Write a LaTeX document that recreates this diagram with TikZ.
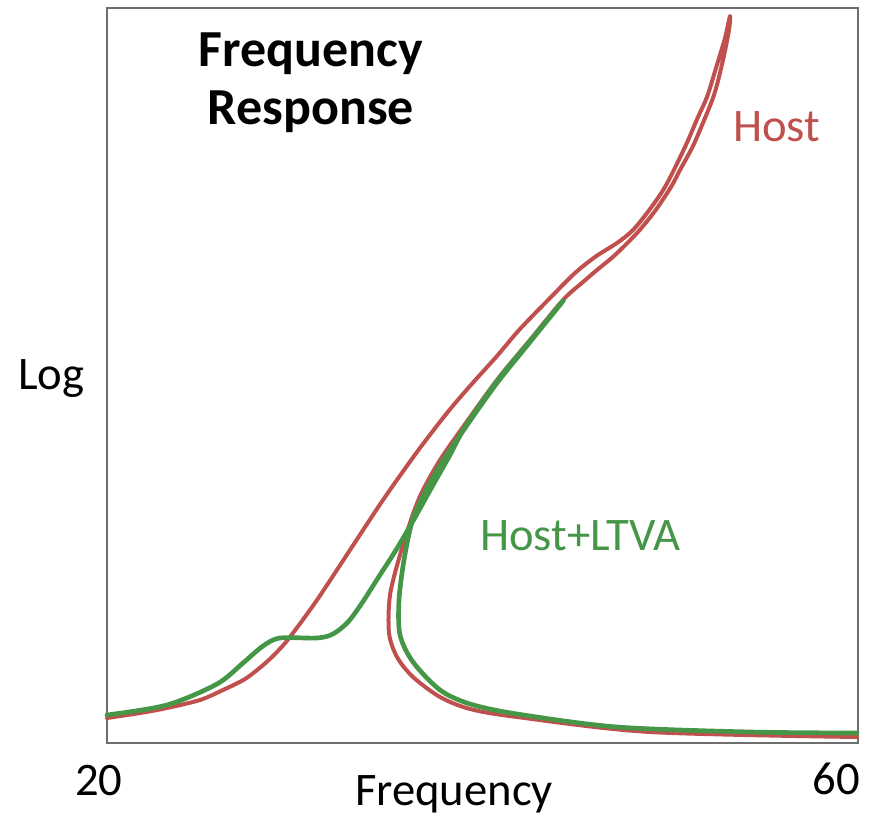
\documentclass[tikz,border=0pt]{standalone}
\usepackage{fontspec}
\setmainfont{Carlito}
\definecolor{hostred}{RGB}{192,80,77}
\definecolor{ltvagreen}{RGB}{70,150,72}
\definecolor{framegray}{RGB}{110,110,110}

\begin{document}
\begin{tikzpicture}[
		x=0.75pt, y=-0.75pt,
		every node/.style={inner sep=0pt, font=\fontsize{35}{40}\selectfont},
		title/.style={font=\fontsize{39}{44}\selectfont\bfseries, anchor=base},
		curve/.style={line width=3pt, line cap=round, line join=round}
	]
  \useasboundingbox (0,0) rectangle (875,816);
  \draw [framegray, line width=1.5pt] (107,8) rectangle (858,743);
  \node (title_1) [title] at (311,67) {Frequency};
  \node (title_2) [title] at (311,125) {Response};
  \node (log) [anchor=base west] at (18,390) {Log};
  \node (f_min) [anchor=base west] at (75,795) {20};
  \node (f_max) [anchor=base east] at (860,794) {60};
  \node (freq) [anchor=base] at (454,805) {Frequency};
  \node (host) [anchor=base west, text=hostred] at (733,142) {Host};
  \node (host_ltva) [anchor=base west, text=ltvagreen] at (480,550) {Host+LTVA};
  % host: rising branch, top, back down and round the fold
  \draw [curve, hostred] plot[smooth] coordinates {
    (107,718) (140,713) (167,708) (200,700) (223,690) (245,679) (262,666)
    (276,653) (290,637) (317,600) (350,550) (383,500) (417,452) (447,413)
    (470,386) (497,356) (520,329) (553,295) (575,273) (595,257) (617,243)
    (632,231) (647,213) (665,187) (685,147) (698,117) (707,97) (716,68)
    (725,38) (730,16)
    (729,30) (723,60) (714,95) (700,130) (692,148) (680,170) (671,187)
    (655,211) (637,233) (615,255) (597,270) (583,282) (563,300) (530,340)
    (497,380) (463,427) (440,460) (422,492) (412,517) (400,555) (390,595)
    (389,633) (397,657) (413,677) (440,697) (470,709) (517,717) (650,732)
    (857,737)};
  % host+ltva: plateau and rising branch
  \draw [curve, ltvagreen, line width=3.5pt] plot[smooth] coordinates {
    (107,715) (167,705) (217,684) (243,663) (263,646) (280,638) (317,638)
    (333,634) (348,622) (362,603) (378,578) (396,550) (413,521) (433,485)
    (450,455) (465,427) (497,381) (530,341) (563,301)};
  % host+ltva: back down and round the fold
  \draw [curve, ltvagreen, line width=3.5pt] plot[smooth] coordinates {
    (563,301) (530,342) (497,383) (465,428) (442,462) (424,494) (412,522)
    (404,560) (399,600) (400,635) (413,662) (440,690) (470,704) (517,714)
    (617,727) (750,732) (857,733)};
\end{tikzpicture}
\end{document}
